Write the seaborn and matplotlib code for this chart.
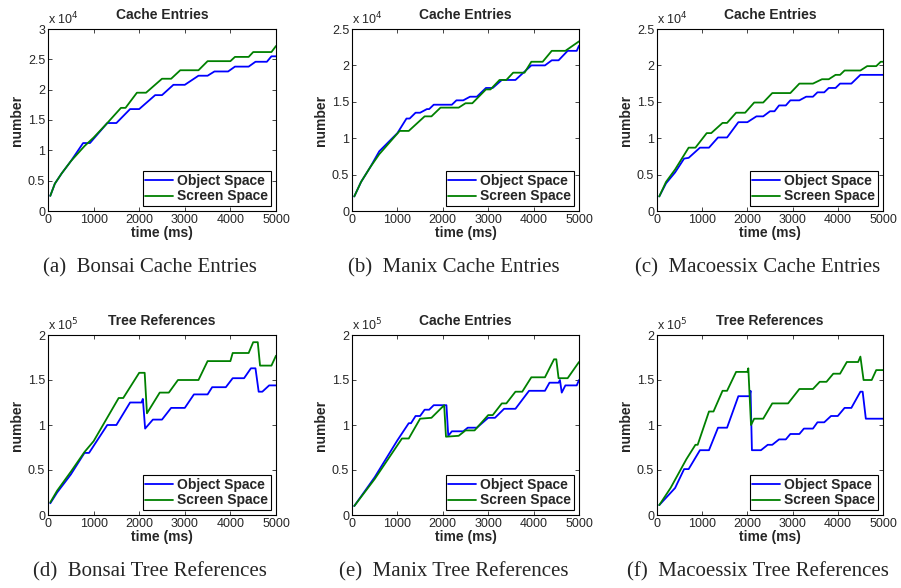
import numpy as np
import pandas as pd
import seaborn as sns
import matplotlib
matplotlib.use("Agg")
import matplotlib.pyplot as plt
from matplotlib.ticker import FuncFormatter, MultipleLocator

# Breakpoints: time in ms, value in units of 10^k (k per panel)
series_names = ["Object Space", "Screen Space"]
colors = {"Object Space": "#0000ff", "Screen Space": "#008000"}

# (a) Bonsai cache entries, x 10^4
a_obj_t = [50, 150, 300, 500, 770, 920, 1000, 1300, 1500, 1800, 2000, 2350, 2500, 2750, 3000, 3300, 3500, 3650, 3950, 4100, 4400, 4550, 4800, 4900, 5000]
a_obj_v = [0.25, 0.45, 0.62, 0.82, 1.12, 1.12, 1.19, 1.45, 1.45, 1.68, 1.68, 1.91, 1.91, 2.08, 2.08, 2.23, 2.23, 2.30, 2.30, 2.38, 2.38, 2.46, 2.46, 2.55, 2.55]
a_scr_t = [50, 150, 300, 500, 800, 1000, 1300, 1600, 1700, 1950, 2150, 2500, 2700, 2900, 3300, 3500, 4000, 4100, 4400, 4500, 4900, 5000]
a_scr_v = [0.25, 0.45, 0.62, 0.82, 1.07, 1.21, 1.45, 1.70, 1.70, 1.95, 1.95, 2.18, 2.18, 2.32, 2.32, 2.47, 2.47, 2.54, 2.54, 2.62, 2.62, 2.72]

# (b) Manix cache entries, x 10^4
b_obj_t = [50, 200, 400, 600, 1000, 1200, 1270, 1400, 1500, 1650, 1700, 1800, 2200, 2300, 2450, 2600, 2750, 2950, 3100, 3300, 3600, 3950, 4250, 4400, 4550, 4750, 4950, 5000]
b_obj_v = [0.2, 0.4, 0.6, 0.82, 1.07, 1.27, 1.27, 1.35, 1.35, 1.40, 1.40, 1.46, 1.46, 1.52, 1.52, 1.57, 1.57, 1.69, 1.69, 1.80, 1.80, 2.00, 2.00, 2.07, 2.07, 2.20, 2.20, 2.27]
b_scr_t = [50, 200, 400, 600, 1050, 1250, 1600, 1750, 1950, 2350, 2500, 2650, 2950, 3050, 3250, 3400, 3550, 3800, 3950, 4200, 4400, 4700, 5000]
b_scr_v = [0.2, 0.4, 0.6, 0.78, 1.10, 1.10, 1.30, 1.30, 1.42, 1.42, 1.48, 1.48, 1.67, 1.67, 1.80, 1.80, 1.90, 1.90, 2.05, 2.05, 2.20, 2.20, 2.33]

# (c) Macoessix cache entries, x 10^4
c_obj_t = [50, 200, 400, 600, 700, 950, 1150, 1350, 1550, 1800, 2000, 2200, 2350, 2500, 2600, 2700, 2850, 2950, 3150, 3300, 3450, 3550, 3700, 3800, 3950, 4050, 4300, 4500, 5000]
c_obj_v = [0.2, 0.38, 0.53, 0.72, 0.73, 0.87, 0.87, 1.01, 1.01, 1.22, 1.22, 1.30, 1.30, 1.37, 1.37, 1.45, 1.45, 1.52, 1.52, 1.57, 1.57, 1.63, 1.63, 1.69, 1.69, 1.75, 1.75, 1.87, 1.87]
c_scr_t = [50, 200, 400, 700, 850, 1100, 1200, 1450, 1550, 1750, 1950, 2150, 2350, 2550, 2950, 3150, 3450, 3650, 3800, 3950, 4050, 4150, 4500, 4650, 4850, 4950, 5000]
c_scr_v = [0.2, 0.4, 0.57, 0.87, 0.87, 1.07, 1.07, 1.21, 1.21, 1.35, 1.35, 1.49, 1.49, 1.62, 1.62, 1.75, 1.75, 1.81, 1.81, 1.87, 1.87, 1.93, 1.93, 1.99, 1.99, 2.05, 2.05]

# (d) Bonsai tree references, x 10^5
d_obj_t = [50, 200, 500, 800, 900, 1300, 1500, 1800, 2050, 2080, 2130, 2300, 2500, 2700, 3000, 3200, 3500, 3600, 3900, 4050, 4300, 4450, 4550, 4620, 4700, 4850, 5000]
d_obj_v = [0.13, 0.25, 0.45, 0.69, 0.69, 1.00, 1.00, 1.25, 1.25, 1.29, 0.96, 1.06, 1.06, 1.19, 1.19, 1.34, 1.34, 1.42, 1.42, 1.52, 1.52, 1.63, 1.63, 1.37, 1.37, 1.44, 1.44]
d_scr_t = [50, 200, 500, 800, 1000, 1550, 1650, 2000, 2120, 2170, 2450, 2650, 2850, 3300, 3500, 4000, 4050, 4400, 4500, 4600, 4650, 4900, 5000]
d_scr_v = [0.14, 0.27, 0.48, 0.70, 0.82, 1.30, 1.30, 1.58, 1.58, 1.13, 1.36, 1.36, 1.50, 1.50, 1.71, 1.71, 1.80, 1.80, 1.92, 1.92, 1.66, 1.66, 1.77]

# (e) Manix tree references, x 10^5
e_obj_t = [50, 500, 1000, 1250, 1300, 1400, 1500, 1600, 1700, 1800, 2080, 2120, 2200, 2450, 2550, 2750, 3000, 3150, 3350, 3600, 3900, 4250, 4350, 4550, 4580, 4620, 4700, 4950, 5000]
e_obj_v = [0.1, 0.42, 0.83, 1.02, 1.02, 1.10, 1.10, 1.17, 1.17, 1.22, 1.22, 0.88, 0.93, 0.93, 0.97, 0.97, 1.08, 1.08, 1.18, 1.18, 1.38, 1.38, 1.47, 1.47, 1.50, 1.36, 1.44, 1.44, 1.50]
e_scr_t = [50, 500, 1100, 1250, 1500, 1750, 2030, 2070, 2350, 2500, 2700, 3000, 3100, 3300, 3400, 3600, 3750, 3950, 4250, 4450, 4500, 4550, 4750, 5000]
e_scr_v = [0.1, 0.4, 0.85, 0.85, 1.07, 1.08, 1.22, 0.87, 0.88, 0.94, 0.94, 1.11, 1.11, 1.24, 1.24, 1.37, 1.37, 1.53, 1.53, 1.73, 1.73, 1.52, 1.52, 1.70]

# (f) Macoessix tree references, x 10^5
f_obj_t = [50, 400, 600, 700, 950, 1150, 1350, 1550, 1800, 2050, 2070, 2100, 2300, 2450, 2550, 2700, 2850, 2950, 3150, 3250, 3450, 3550, 3700, 3850, 4000, 4150, 4300, 4500, 4550, 4620, 5000]
f_obj_v = [0.11, 0.30, 0.51, 0.51, 0.72, 0.72, 0.97, 0.97, 1.32, 1.32, 1.38, 0.72, 0.72, 0.78, 0.78, 0.84, 0.84, 0.90, 0.90, 0.96, 0.96, 1.03, 1.03, 1.10, 1.10, 1.19, 1.19, 1.37, 1.37, 1.07, 1.07]
f_scr_t = [50, 300, 650, 850, 900, 1150, 1250, 1450, 1550, 1750, 2000, 2020, 2080, 2150, 2350, 2550, 2900, 3150, 3450, 3600, 3750, 3900, 4050, 4200, 4450, 4500, 4570, 4750, 4850, 5000]
f_scr_v = [0.11, 0.30, 0.62, 0.78, 0.78, 1.15, 1.15, 1.38, 1.38, 1.59, 1.59, 1.63, 1.00, 1.07, 1.07, 1.24, 1.24, 1.40, 1.40, 1.48, 1.48, 1.57, 1.57, 1.70, 1.70, 1.76, 1.50, 1.50, 1.61, 1.61]

titles = ["Cache Entries", "Cache Entries", "Cache Entries",
          "Tree References", "Cache Entries", "Tree References"]
captions = ["(a)  Bonsai Cache Entries", "(b)  Manix Cache Entries", "(c)  Macoessix Cache Entries",
            "(d)  Bonsai Tree References", "(e)  Manix Tree References", "(f)  Macoessix Tree References"]
exponents = [4, 4, 4, 5, 5, 5]
ymax = [3, 2.5, 2.5, 2, 2, 2]

panels = [
    (a_obj_t, a_obj_v, a_scr_t, a_scr_v),
    (b_obj_t, b_obj_v, b_scr_t, b_scr_v),
    (c_obj_t, c_obj_v, c_scr_t, c_scr_v),
    (d_obj_t, d_obj_v, d_scr_t, d_scr_v),
    (e_obj_t, e_obj_v, e_scr_t, e_scr_v),
    (f_obj_t, f_obj_v, f_scr_t, f_scr_v),
]

sns.set_style("ticks")
plt.rcParams["font.family"] = ["Liberation Sans", "DejaVu Sans"]
plt.rcParams["axes.linewidth"] = 0.8

W, H = 901, 588
fig = plt.figure(figsize=(W / 100, H / 100), dpi=100)

# axes boxes in pixels (left, right) / (top, bottom)
col_lr = [(48, 276), (352, 579), (657, 883)]
row_tb = [(29, 211), (335, 515)]
caption_y = [268, 572]

for i, (ot, ov, st, sv) in enumerate(panels):
    r, c = divmod(i, 3)
    l, rr = col_lr[c]
    t, b = row_tb[r]
    ax = fig.add_axes([l / W, 1 - b / H, (rr - l) / W, (b - t) / H])
    scale = 10 ** exponents[i]
    df = pd.concat([
        pd.DataFrame({"time": ot, "value": np.array(ov) * scale, "series": series_names[0]}),
        pd.DataFrame({"time": st, "value": np.array(sv) * scale, "series": series_names[1]}),
    ])
    sns.lineplot(data=df, x="time", y="value", hue="series", palette=colors,
                 estimator=None, sort=False, legend=False, linewidth=1.3, ax=ax)
    ax.set_xlim(0, 5000)
    ax.set_ylim(0, ymax[i] * scale)
    ax.xaxis.set_major_locator(MultipleLocator(1000))
    ax.yaxis.set_major_locator(MultipleLocator(0.5 * scale))
    ax.yaxis.set_major_formatter(FuncFormatter(lambda v, p, s=scale: f"{v / s:g}"))
    ax.tick_params(direction="in", top=True, right=True, length=3, width=0.6,
                   labelsize=9, pad=2)
    for sp in ax.spines.values():
        sp.set_visible(True)
        sp.set_color("black")
    ax.set_title(titles[i], fontsize=10, fontweight="bold", pad=7)
    ax.set_xlabel("time (ms)", fontsize=10, fontweight="bold", labelpad=0)
    ax.set_ylabel("number", fontsize=10, fontweight="bold", labelpad=3)
    ax.text(0.0, 1.01, f"x 10$^{exponents[i]}$", transform=ax.transAxes,
            fontsize=9, ha="left", va="bottom")
    leg = ax.legend(handles=ax.lines[:2], labels=series_names, loc="lower right",
                    prop={"weight": "bold", "size": 10}, frameon=True, fancybox=False,
                    borderaxespad=0.35, handlelength=2.0, handletextpad=0.3,
                    borderpad=0.2, labelspacing=0.1)
    leg.get_frame().set_edgecolor("black")
    leg.get_frame().set_linewidth(0.8)
    leg.get_frame().set_alpha(1)
    fig.text(((l + rr) / 2 - 12) / W, 1 - caption_y[r] / H, captions[i],
             family="Liberation Serif", fontsize=15, ha="center", va="center")

fig.savefig("out.png", dpi=100)
